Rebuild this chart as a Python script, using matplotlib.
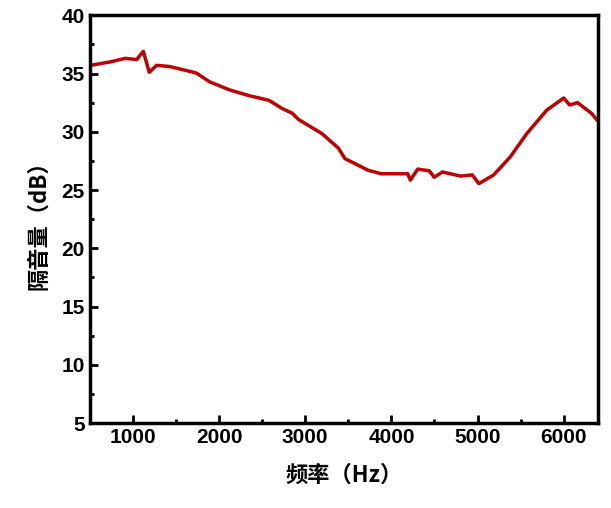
import matplotlib
matplotlib.use("Agg")
import matplotlib.pyplot as plt
from matplotlib.ticker import MultipleLocator, AutoMinorLocator

freq = [507, 738, 910, 1044, 1121, 1190, 1274, 1428, 1734, 1888, 2119, 2349, 2579, 2732, 2847, 2924,
        3193, 3385, 3461, 3730, 3883, 4190, 4220, 4306, 4440, 4497, 4593, 4804, 4939, 5015, 5188,
        5380, 5572, 5802, 6000, 6070, 6160, 6320, 6400]
db = [35.7, 36.0, 36.3, 36.2, 36.9, 35.1, 35.7, 35.6, 35.05, 34.3, 33.6, 33.1, 32.7, 32.0, 31.6, 31.05,
      29.85, 28.6, 27.7, 26.7, 26.4, 26.4, 25.85, 26.8, 26.65, 26.1, 26.55, 26.2, 26.3, 25.55, 26.3,
      27.85, 29.85, 31.85, 32.9, 32.3, 32.5, 31.6, 30.9]

plt.rcParams['font.family'] = ['Noto Sans CJK SC', 'DejaVu Sans']
fig = plt.figure(figsize=(6.11, 5.08), dpi=100)
ax = fig.add_axes([0.147, 0.167, 0.832, 0.803])
ax.plot(freq, db, color='#c00000', lw=2.5)
ax.set_xlim(500, 6400)
ax.set_ylim(5, 40)
ax.yaxis.set_major_locator(MultipleLocator(5))
ax.xaxis.set_major_locator(MultipleLocator(1000))
ax.xaxis.set_minor_locator(AutoMinorLocator(2))
ax.yaxis.set_minor_locator(AutoMinorLocator(2))
ax.tick_params(which='both', direction='in', width=2)
ax.tick_params(which='major', length=6, labelsize=15)
ax.tick_params(which='minor', length=3)
for lab in ax.get_xticklabels() + ax.get_yticklabels():
    lab.set_fontweight('bold')
    lab.set_family('Liberation Sans')
for s in ax.spines.values():
    s.set_linewidth(2.5)
ax.set_xlabel('频率（Hz）', fontsize=16, fontweight='bold', labelpad=12)
ax.set_ylabel('隔音量（dB）', fontsize=16, fontweight='bold', labelpad=8)
fig.savefig('out.png', dpi=100)
